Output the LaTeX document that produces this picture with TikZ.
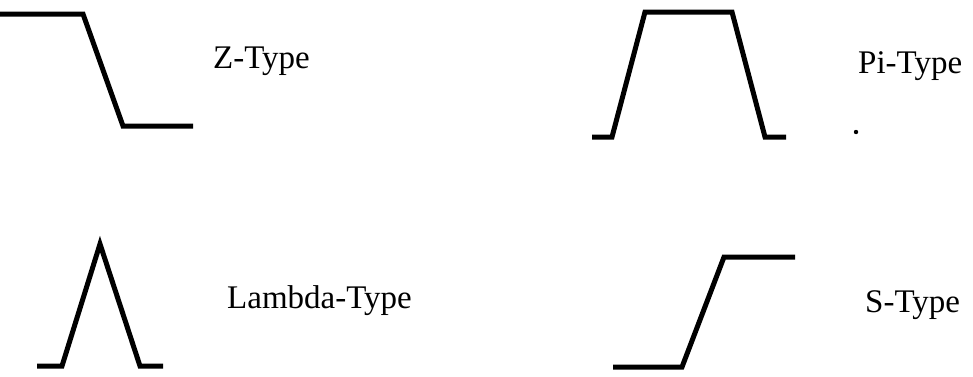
\documentclass[tikz,border=0pt]{standalone}
\usepackage{fontspec}
\setmainfont{Liberation Serif}
\begin{document}
\begin{tikzpicture}[x=1pt,y=-1pt,
  curve/.style={line width=5pt,line join=miter,black},
  lbl/.style={anchor=base west,inner sep=0pt,font=\fontsize{33}{39}\selectfont}]
\useasboundingbox (0,0) rectangle (973,376);
% Z-Type
\draw[curve] (0,14) -- (83,14) -- (123,126) -- (193,126);
\node[lbl] (z) at (213,68) {Z-Type};
% Pi-Type
\draw[curve] (592,137) -- (612,137) -- (645,12) -- (732,12) -- (765,137) -- (786,137);
\node[lbl] (pi) at (858,73) {Pi-Type};
\fill (856,132) circle (2.2);
% Lambda-Type
\draw[curve] (37,366) -- (62,366) -- (100,244) -- (140,366) -- (163,366);
\node[lbl] (lam) at (227,308) {Lambda-Type};
% S-Type
\draw[curve] (613,367) -- (682,367) -- (724,257) -- (795,257);
\node[lbl] (s) at (865,312) {S-Type};
\end{tikzpicture}
\end{document}
